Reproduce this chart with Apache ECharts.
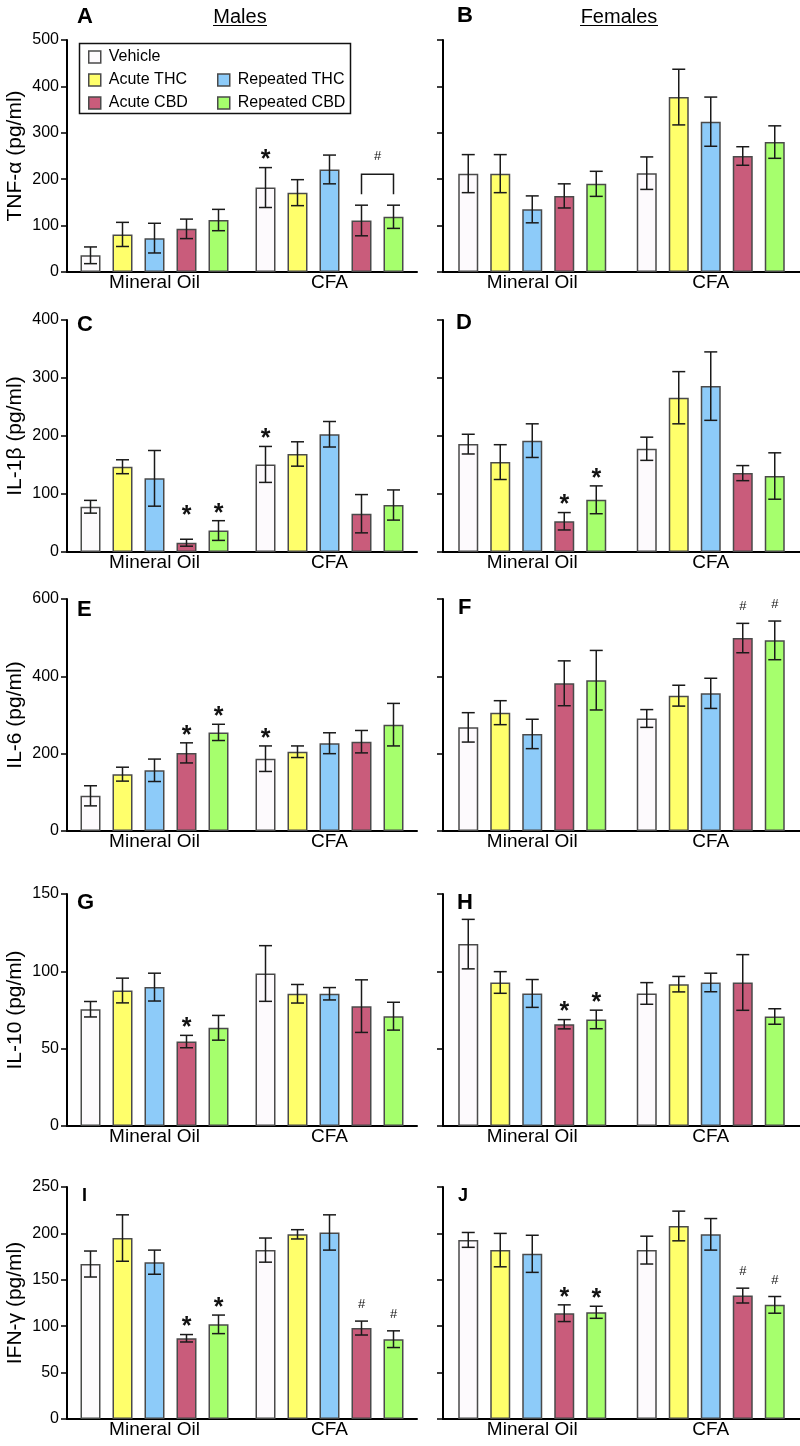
<!DOCTYPE html>
<html>
<head>
<meta charset="utf-8">
<script src="https://cdn.jsdelivr.net/npm/echarts@6/dist/echarts.min.js"></script>
<style>
html, body { margin: 0; padding: 0; background: #fff; }
#chart { width: 800px; height: 1446px; }
</style>
</head>
<body>
<div id="chart"></div>
<script>
// ---------------- DATA ----------------
const categories = ['Mineral Oil', 'CFA'];
const treatments = ['Vehicle', 'Acute THC', 'Repeated THC', 'Acute CBD', 'Repeated CBD'];

// Each array: [Mineral Oil row, CFA row], values in treatment order
const tnfMalesMean   = [[36, 81, 73, 93, 112], [182, 171, 221, 111, 119]];
const tnfMalesSem    = [[18, 26, 32, 21, 23], [43, 28, 31, 33, 25]];
const tnfFemalesMean = [[212, 212, 135, 164, 190], [213, 377, 324, 250, 280]];
const tnfFemalesSem  = [[41, 41, 29, 26, 27], [35, 60, 53, 20, 35]];

const il1bMalesMean   = [[78, 147, 127, 16, 37], [151, 169, 203, 66, 81]];
const il1bMalesSem    = [[11, 12, 48, 6, 17], [31, 21, 22, 33, 26]];
const il1bFemalesMean = [[186, 155, 192, 53, 90], [178, 266, 286, 136, 131]];
const il1bFemalesSem  = [[17, 30, 29, 15, 24], [20, 45, 59, 13, 40]];

const il6MalesMean   = [[91, 147, 157, 202, 255], [187, 205, 227, 231, 275]];
const il6MalesSem    = [[26, 18, 29, 26, 21], [33, 15, 27, 29, 55]];
const il6FemalesMean = [[268, 306, 251, 382, 390], [291, 350, 356, 499, 493]];
const il6FemalesSem  = [[38, 31, 38, 58, 77], [23, 27, 39, 38, 50]];

const il10MalesMean   = [[75.5, 87.6, 89.8, 54.6, 63.5], [98.6, 85.5, 85.5, 77.5, 71]];
const il10MalesSem    = [[5, 8, 9, 4, 8], [18, 6, 4, 17, 9]];
const il10FemalesMean = [[117.6, 92.8, 85.7, 65.8, 68.9], [85.7, 91.7, 92.8, 92.8, 70.8]];
const il10FemalesSem  = [[16, 7, 9, 3, 6], [7, 5, 6, 18, 5]];

const ifngMalesMean   = [[167, 195, 169, 87, 102], [182, 199, 201, 98, 86]];
const ifngMalesSem    = [[14, 25, 13, 4, 10], [13, 5, 19, 7.5, 9]];
const ifngFemalesMean = [[193, 182, 178, 114, 115], [182, 208, 199, 133, 123]];
const ifngFemalesSem  = [[8, 18, 20, 9, 6.5], [15, 16, 17, 8, 9]];

// Significance marks: [category index, treatment index, symbol, optional level]
const tnfMalesMarks    = [[1, 0, '*']];
const tnfMalesBrackets = [[1, 3, 4, '#']];
const tnfFemalesMarks  = [];
const il1bMalesMarks   = [[0, 3, '*', 63], [0, 4, '*'], [1, 0, '*']];
const il1bFemalesMarks = [[0, 3, '*'], [0, 4, '*']];
const il6MalesMarks    = [[0, 3, '*'], [0, 4, '*'], [1, 0, '*']];
const il6FemalesMarks  = [[1, 3, '#'], [1, 4, '#']];
const il10MalesMarks   = [[0, 3, '*']];
const il10FemalesMarks = [[0, 3, '*'], [0, 4, '*']];
const ifngMalesMarks   = [[0, 3, '*'], [0, 4, '*'], [1, 3, '#'], [1, 4, '#']];
const ifngFemalesMarks = [[0, 3, '*'], [0, 4, '*'], [1, 3, '#'], [1, 4, '#']];

// Axis tick settings per row
const yMax   = [500, 400, 600, 150, 250];
const yStep  = [100, 100, 200, 50, 50];
const yNames = ['TNF-\u03b1 (pg/ml)', 'IL-1\u03b2 (pg/ml)', 'IL-6 (pg/ml)', 'IL-10 (pg/ml)', 'IFN-\u03b3 (pg/ml)'];
const letters = [['A', 'B'], ['C', 'D'], ['E', 'F'], ['G', 'H'], ['I', 'J']];
const sexTitles = ['Males', 'Females'];

// ---------------- STYLE / LAYOUT ----------------
const FONT = '"Liberation Sans", Arial, Helvetica, sans-serif';
const colors = ['#FDFAFD', '#FFFF6B', '#8DCBF9', '#C95C7B', '#A6FF6D'];
const BAR_W = 20, BAR_GAP = 0.6, BAR_STEP = BAR_W * (1 + BAR_GAP), CAP = 6.5;
const rowTops = [40, 320, 599, 894, 1187];
const plotH = 232;
const colLeft = [67, 443];
const colWidth = [350, 357];

const panels = [
  [tnfMalesMean, tnfMalesSem, tnfMalesMarks, tnfMalesBrackets],
  [tnfFemalesMean, tnfFemalesSem, tnfFemalesMarks, []],
  [il1bMalesMean, il1bMalesSem, il1bMalesMarks, []],
  [il1bFemalesMean, il1bFemalesSem, il1bFemalesMarks, []],
  [il6MalesMean, il6MalesSem, il6MalesMarks, []],
  [il6FemalesMean, il6FemalesSem, il6FemalesMarks, []],
  [il10MalesMean, il10MalesSem, il10MalesMarks, []],
  [il10FemalesMean, il10FemalesSem, il10FemalesMarks, []],
  [ifngMalesMean, ifngMalesSem, ifngMalesMarks, []],
  [ifngFemalesMean, ifngFemalesSem, ifngFemalesMarks, []]
];

const lineStyle = { stroke: '#1a1a1a', lineWidth: 1.5 };

function renderError(params, api) {
  const ci = api.value(0), m = api.value(1), e = api.value(2), s = api.value(3);
  const base = api.coord([ci, m]);
  const x = base[0] + (s - 2) * BAR_STEP;
  const top = api.coord([ci, m + e])[1];
  const bot = api.coord([ci, m - e])[1];
  return {
    type: 'group',
    children: [
      { type: 'line', shape: { x1: x, y1: top, x2: x, y2: bot }, style: lineStyle },
      { type: 'line', shape: { x1: x - CAP, y1: top, x2: x + CAP, y2: top }, style: lineStyle },
      { type: 'line', shape: { x1: x - CAP, y1: bot, x2: x + CAP, y2: bot }, style: lineStyle }
    ]
  };
}

const SYMS = ['*', '#'];
function markText(sym, x, glyphBottom) {
  if (sym === '*') {
    return { type: 'text', style: { text: '*', x: x, y: glyphBottom + 1, align: 'center', verticalAlign: 'middle',
      fontSize: 25, fontWeight: 'bold', fontFamily: FONT, fill: '#111' } };
  }
  return { type: 'text', style: { text: '#', x: x, y: glyphBottom - 4.5, align: 'center', verticalAlign: 'middle',
    fontSize: 13, fontFamily: FONT, fill: '#111' } };
}

function renderMark(params, api) {
  const ci = api.value(0), topVal = api.value(1), s = api.value(2), symIdx = api.value(3), lvl = api.value(4);
  const sym = SYMS[symIdx];
  const base = api.coord([ci, topVal]);
  const x = base[0] + (s - 2) * BAR_STEP;
  let gb;
  if (lvl >= 0) gb = api.coord([ci, lvl])[1];
  else gb = base[1] - (sym === '*' ? 8 : 12);
  return markText(sym, x, gb);
}

function renderBracket(params, api) {
  const ci = api.value(0), s1 = api.value(1), s2 = api.value(2), topVal = api.value(3), symIdx = api.value(4);
  const base = api.coord([ci, topVal]);
  const x1 = base[0] + (s1 - 2) * BAR_STEP;
  const x2 = base[0] + (s2 - 2) * BAR_STEP;
  const legBottom = base[1] - 11;
  const barTop = legBottom - 20;
  return {
    type: 'group',
    children: [
      { type: 'polyline', shape: { points: [[x1, legBottom], [x1, barTop], [x2, barTop], [x2, legBottom]] },
        style: { stroke: '#1a1a1a', lineWidth: 1.5, fill: null } },
      markText(SYMS[symIdx], (x1 + x2) / 2, barTop - 13)
    ]
  };
}

const grid = [], xAxis = [], yAxis = [], series = [], graphic = [];

panels.forEach((p, k) => {
  const row = Math.floor(k / 2), col = k % 2;
  const [mean, sem, marks, brackets] = p;
  grid.push({ left: colLeft[col], top: rowTops[row], width: colWidth[col], height: plotH, containLabel: false });
  xAxis.push({
    gridIndex: k, type: 'category', data: categories,
    axisLine: { lineStyle: { color: '#000', width: 2 } },
    axisTick: { alignWithLabel: true, length: 6, lineStyle: { color: '#000', width: 1.5 } },
    axisLabel: { fontSize: 19, color: '#000', margin: 1, fontFamily: FONT, interval: 0 },
    splitLine: { show: false }
  });
  yAxis.push({
    gridIndex: k, type: 'value', min: 0, max: yMax[row], interval: yStep[row],
    splitLine: { show: false },
    axisLine: { show: true, lineStyle: { color: '#000', width: 2 } },
    axisTick: { show: true, length: 6, lineStyle: { color: '#000', width: 1.5 } },
    axisLabel: { show: col === 0, fontSize: 16, color: '#000', margin: 8, fontFamily: FONT },
    name: col === 0 ? yNames[row] : '',
    nameLocation: 'middle', nameGap: 41,
    nameTextStyle: { fontSize: 21, color: '#000', fontFamily: FONT }
  });
  treatments.forEach((t, s) => {
    series.push({
      type: 'bar', name: t, xAxisIndex: k, yAxisIndex: k,
      data: categories.map((c, ci) => mean[ci][s]),
      barWidth: BAR_W, barGap: (BAR_GAP * 100) + '%',
      itemStyle: { color: colors[s], borderColor: '#4a4a4a', borderWidth: 1.5 },
      emphasis: { disabled: true }, z: 2
    });
  });
  const errData = [];
  categories.forEach((c, ci) => treatments.forEach((t, s) => errData.push([ci, mean[ci][s], sem[ci][s], s])));
  series.push({
    type: 'custom', name: 'err' + k, xAxisIndex: k, yAxisIndex: k, renderItem: renderError,
    data: errData, encode: { x: 0, y: 1 }, z: 5, silent: true
  });
  if (marks.length) {
    series.push({
      type: 'custom', name: 'marks' + k, xAxisIndex: k, yAxisIndex: k, renderItem: renderMark,
      data: marks.map(m => [m[0], mean[m[0]][m[1]] + sem[m[0]][m[1]], m[1], SYMS.indexOf(m[2]), m.length > 3 ? m[3] : -1]),
      encode: { x: 0, y: 1 }, z: 6, silent: true
    });
  }
  if (brackets.length) {
    series.push({
      type: 'custom', name: 'brackets' + k, xAxisIndex: k, yAxisIndex: k, renderItem: renderBracket,
      data: brackets.map(b => {
        const ci = b[0];
        const top = Math.max(mean[ci][b[1]] + sem[ci][b[1]], mean[ci][b[2]] + sem[ci][b[2]]);
        return [ci, b[1], b[2], top, SYMS.indexOf(b[3])];
      }),
      encode: { x: 0, y: 3 }, z: 6, silent: true
    });
  }
});

// Panel letters
const letterPos = [
  [[77, 6], [457, 5]],
  [[77, 314], [456, 312]],
  [[77, 599], [458, 597]],
  [[77, 892], [457, 892]],
  [[82, 1187], [458, 1187]]
];
letters.forEach((rowL, r) => rowL.forEach((L, c) => {
  graphic.push({ type: 'text', left: letterPos[r][c][0], top: letterPos[r][c][1], z: 10,
    style: { text: L, fontSize: r === 4 ? 18 : 22, fontWeight: 'bold', fontFamily: FONT, fill: '#000' } });
}));

// Sex titles with underline
const titleCenters = [240, 619];
sexTitles.forEach((t, i) => {
  graphic.push({ type: 'text', x: titleCenters[i], y: 17, z: 10,
    style: { text: t, fontSize: 20, fontFamily: FONT, fill: '#000', align: 'center', verticalAlign: 'middle' } });
});
graphic.push({ type: 'line', z: 10, shape: { x1: 213, y1: 25.5, x2: 267, y2: 25.5 }, style: { stroke: '#000', lineWidth: 1.2 } });
graphic.push({ type: 'line', z: 10, shape: { x1: 580, y1: 25.5, x2: 658, y2: 25.5 }, style: { stroke: '#000', lineWidth: 1.2 } });

// Legend box
graphic.push({ type: 'rect', z: 1, shape: { x: 79.5, y: 43.5, width: 271, height: 70 },
  style: { fill: '#fff', stroke: '#111', lineWidth: 1.5 } });

const legendCommon = {
  orient: 'vertical', icon: 'rect', itemWidth: 12, itemHeight: 12, itemGap: 7, padding: 0,
  selectedMode: false, z: 20,
  itemStyle: { borderColor: '#4a4a4a', borderWidth: 1.5 },
  textStyle: { fontSize: 16, color: '#000', fontFamily: FONT, padding: [0, 0, 0, 3] }
};

const option = {
  animation: false,
  backgroundColor: '#fff',
  textStyle: { fontFamily: FONT },
  legend: [
    Object.assign({}, legendCommon, { left: 88, top: 49, data: ['Vehicle', 'Acute THC', 'Acute CBD'] }),
    Object.assign({}, legendCommon, { left: 217, top: 72, data: ['Repeated THC', 'Repeated CBD'] })
  ],
  grid, xAxis, yAxis, series, graphic
};

const chart = echarts.init(document.getElementById('chart'), null, { renderer: 'canvas' });
chart.setOption(option);
</script>
</body>
</html>
